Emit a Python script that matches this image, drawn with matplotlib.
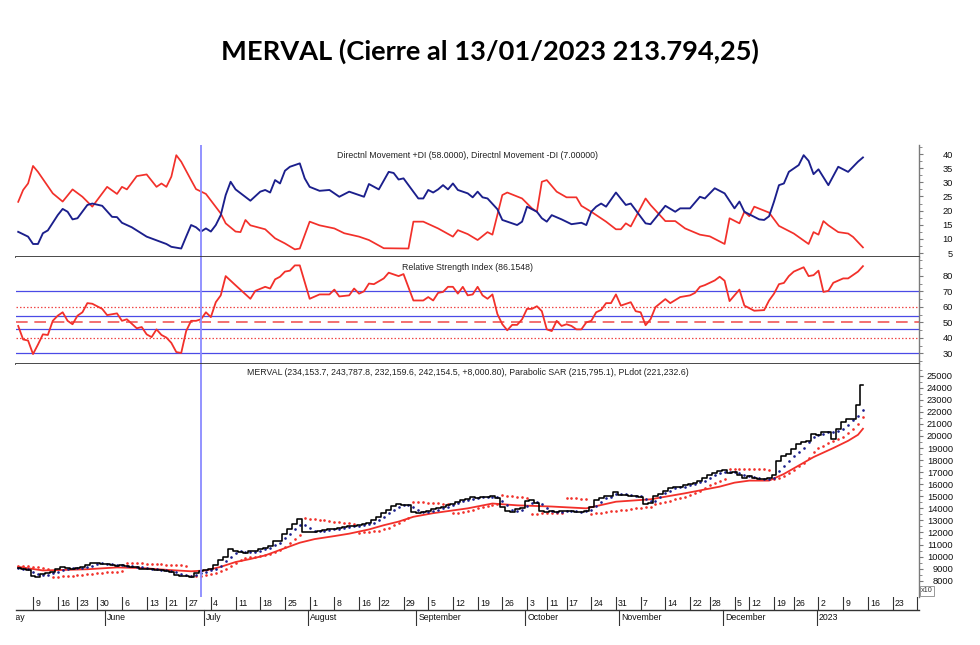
import numpy as np
import pandas as pd
import matplotlib
matplotlib.use("Agg")
import matplotlib.pyplot as plt
from matplotlib.ticker import MultipleLocator

# ---------------- calendar ----------------
holidays = ['2022-05-18', '2022-05-25', '2022-06-17', '2022-06-20', '2022-08-15',
            '2022-10-07', '2022-10-10', '2022-11-21', '2022-12-08', '2022-12-09',
            '2022-12-20']
first_session = '2022-05-04'
last_session = '2023-01-13'
future_end = '2023-01-31'
month_names = ['May', 'June', 'July', 'August', 'September', 'October',
               'November', 'December', '2023']

# ---------------- price panel data (session 0 = 2022-05-04) ----------------
close = [9050, 8950, 8850, 8350, 8300, 8550, 8600, 8700, 8950, 9150,
         9050, 9000, 9050, 9150, 9300, 9450, 9500, 9400, 9350, 9300,
         9250, 9300, 9200, 9150, 9100, 9000, 8950, 9000, 8900, 8850,
         8800, 8750, 8500, 8350, 8400, 8300, 8650, 8800, 8900, 8950,
         9300, 9700, 9950, 10600, 10450, 10400, 10300, 10450, 10500, 10650,
         10700, 10900, 11300, 11300, 11900, 12300, 12700, 13100, 12000, 12050,
         12050, 12150, 12200, 12250, 12300, 12350, 12450, 12500, 12550, 12600,
         12700, 12800, 13000, 13300, 13600, 13900, 14200, 14350, 14300, 14250,
         13700, 13650, 13700, 13800, 13950, 14000, 14150, 14250, 14400, 14550,
         14700, 14800, 14900, 14850, 14950, 14900, 15000, 14850, 14150, 13750,
         13700, 13950, 14000, 14650, 14700, 14450, 13800, 13700, 13750, 13700,
         13750, 13800, 13750, 13700, 13700, 13800, 14100, 14700, 14850, 15000,
         15000, 15380, 15100, 15100, 15050, 15000, 14950, 14400, 14450, 15050,
         15200, 15450, 15700, 15750, 15800, 15900, 16000, 16100, 16300, 16500,
         16800, 16900, 17100, 17150, 16950, 17000, 16800, 16550, 16700, 16500,
         16450, 16400, 16500, 16800, 17900, 18300, 18500, 18900, 19300, 19500,
         19600, 20200, 20100, 20300, 20350, 19750, 20600, 21200, 21400, 21450,
         22600, 24215]

pldot = [9050, 9000, 8950, 8750, 8550, 8450, 8500, 8600, 8750, 8900,
         9000, 9050, 9050, 9050, 9150, 9250, 9400, 9450, 9400, 9350,
         9300, 9300, 9250, 9200, 9150, 9100, 9050, 9000, 8950, 8900,
         8850, 8800, 8700, 8550, 8450, 8400, 8450, 8600, 8750, 8850,
         9000, 9250, 9600, 10000, 10300, 10450, 10400, 10400, 10400, 10500,
         10600, 10750, 11000, 11150, 11500, 11850, 12250, 12650, 12650, 12400,
         12150, 12100, 12150, 12200, 12250, 12300, 12350, 12450, 12500, 12550,
         12600, 12700, 12800, 13000, 13300, 13600, 13900, 14150, 14300, 14300,
         14100, 13900, 13700, 13700, 13800, 13900, 14050, 14150, 14300, 14450,
         14600, 14700, 14800, 14850, 14900, 14900, 14950, 14900, 14650, 14250,
         13850, 13800, 13900, 14200, 14450, 14550, 14350, 14000, 13750, 13700,
         13700, 13750, 13750, 13750, 13700, 13750, 13850, 14200, 14550, 14850,
         14950, 15150, 15150, 15150, 15100, 15050, 15000, 14800, 14600, 14650,
         14900, 15250, 15450, 15650, 15750, 15800, 15900, 16000, 16150, 16300,
         16550, 16750, 16950, 17050, 17050, 17000, 16900, 16800, 16700, 16600,
         16550, 16450, 16450, 16550, 17100, 17500, 17900, 18300, 18700, 19000,
         19500, 19900, 20100, 20200, 20300, 20350, 20450, 20600, 20950, 21300,
         21650, 22120]

psar = [9250, 9250, 9200, 9150, 9100, 9050, 9000, 8300, 8320, 8350,
        8380, 8420, 8460, 8500, 8540, 8580, 8620, 8660, 8700, 8730,
        8760, 8790, 9500, 9480, 9460, 9440, 9420, 9400, 9380, 9360,
        9340, 9320, 9300, 9280, 9260, 8350, 8380, 8420, 8460, 8520,
        8620, 8780, 9000, 9250, 9500, 9700, 9850, 9950, 10000, 10050,
        10150, 10250, 10400, 10550, 10800, 11100, 11450, 11800, 13200, 13150,
        13100, 13050, 13000, 12950, 12900, 12850, 12800, 12750, 12700, 11950,
        12000, 12050, 12100, 12150, 12250, 12400, 12600, 12800, 13000, 13200,
        14550, 14530, 14500, 14480, 14450, 14430, 14400, 14400, 13600, 13650,
        13700, 13800, 13900, 14000, 14100, 14200, 14300, 14350, 15100, 15050,
        15000, 14950, 14900, 14850, 13550, 13550, 13580, 13600, 13620, 13600,
        13600, 14850, 14830, 14820, 14800, 14780, 13550, 13600, 13650, 13700,
        13750, 13800, 13850, 13900, 13950, 14000, 14050, 14100, 14150, 14400,
        14450, 14550, 14650, 14750, 14850, 14950, 15100, 15250, 15450, 15650,
        15900, 16100, 16300, 16400, 17300, 17290, 17280, 17270, 17260, 17250,
        17240, 17230, 17220, 16400, 16500, 16650, 16900, 17200, 17500, 17800,
        18200, 18700, 19000, 19200, 19400, 19600, 19750, 19950, 20250, 20600,
        21000, 21580]

ma_session = [0, 5, 10, 14, 20, 25, 30, 35, 38, 41, 44, 47, 50, 54, 57, 60, 64, 67,
              71, 74, 77, 80, 84, 91, 96, 101, 108, 115, 121, 128, 135, 142, 145,
              148, 152, 155, 158, 161, 165, 168, 170, 171]
ma_value = [9150, 8850, 8900, 8950, 9100, 9050, 8900, 8780, 8850, 9150, 9550, 9800,
            10100, 10700, 11150, 11450, 11700, 11900, 12250, 12600, 12900, 13300,
            13600, 14000, 14400, 14250, 14150, 14000, 14550, 14750, 15250, 15800,
            16130, 16300, 16300, 16850, 17550, 18250, 19000, 19600, 20100, 20600]

# ---------------- DMI panel data ----------------
dip_session = [0, 2, 3, 4, 5, 6, 8, 9, 10, 11, 12, 14, 15, 17, 19, 20, 21, 23, 26,
               30, 31, 33, 34, 35, 36, 37, 38, 39, 40, 41, 42, 43, 44, 47, 49, 50,
               51, 52, 53, 54, 55, 57, 58, 59, 61, 63, 65, 67, 70, 71, 73, 75, 76,
               77, 78, 81, 82, 83, 84, 85, 86, 87, 88, 89, 91, 92, 93, 94, 95, 97,
               98, 101, 102, 103, 105, 106, 107, 108, 110, 112, 114, 115, 116, 117,
               118, 119, 121, 123, 124, 127, 128, 131, 133, 134, 136, 138, 139, 141,
               143, 145, 146, 147, 150, 151, 152, 153, 154, 155, 156, 158, 159, 160,
               161, 162, 164, 166, 168, 170, 171]
dip_value = [12.5, 10.8, 8.2, 8.2, 12.0, 13.0, 18.4, 20.6, 19.6, 16.9, 17.3, 22.0,
             22.5, 21.7, 17.8, 17.7, 15.7, 14.1, 10.8, 8.2, 7.2, 6.6, 10.8, 14.9,
             14.1, 12.6, 13.7, 12.6, 14.9, 18.4, 25.5, 30.2, 27.5, 23.5, 26.7, 27.3,
             26.4, 30.8, 29.6, 34.1, 35.5, 36.7, 31.4, 28.4, 27.0, 27.3, 24.9, 26.7,
             24.9, 29.4, 27.5, 33.7, 33.3, 31.0, 31.4, 24.3, 24.3, 27.3, 26.4, 27.5,
             29.0, 27.5, 29.6, 27.3, 26.1, 24.7, 26.7, 24.7, 24.3, 20.5, 16.7, 14.9,
             16.1, 21.4, 19.6, 17.3, 16.1, 18.4, 16.9, 15.2, 15.7, 14.9, 19.6, 21.4,
             22.5, 21.4, 26.4, 22.0, 22.5, 15.5, 15.2, 21.7, 19.6, 20.8, 20.8, 24.9,
             24.3, 27.9, 26.1, 20.8, 23.2, 19.6, 16.9, 16.7, 18.0, 23.2, 29.0, 29.6,
             33.7, 36.1, 39.6, 37.6, 32.9, 34.6, 29.0, 35.5, 33.7, 37.3, 38.8]

dim_session = [0, 1, 2, 3, 4, 7, 9, 11, 13, 15, 18, 20, 21, 22, 24, 26, 28, 29, 30,
               31, 32, 33, 35, 36, 38, 41, 42, 44, 45, 46, 47, 50, 52, 54, 56, 57,
               59, 61, 64, 66, 69, 71, 74, 79, 80, 82, 85, 88, 89, 91, 93, 95, 96,
               98, 99, 102, 104, 105, 106, 107, 109, 111, 113, 114, 116, 119, 121,
               122, 123, 124, 127, 128, 131, 133, 135, 138, 140, 143, 144, 146, 147,
               148, 149, 152, 154, 157, 160, 161, 162, 163, 164, 166, 168, 169, 171]
dim_value = [23.1, 27.3, 29.6, 35.8, 33.7, 26.1, 23.2, 27.5, 24.9, 21.4, 28.4, 25.9,
             28.4, 27.5, 32.2, 32.8, 28.4, 29.6, 28.4, 32.0, 39.6, 37.3, 30.8, 27.6,
             25.9, 19.0, 15.5, 12.6, 12.4, 16.7, 14.8, 13.4, 10.2, 8.4, 6.3, 6.6,
             16.1, 14.8, 13.7, 12.0, 10.8, 9.6, 6.7, 6.6, 16.1, 16.1, 13.7, 10.8,
             13.1, 11.7, 9.6, 12.4, 11.5, 25.5, 26.4, 24.3, 20.8, 19.6, 30.2, 30.8,
             26.7, 24.7, 24.7, 21.7, 19.6, 16.1, 13.4, 13.4, 15.5, 14.4, 24.3, 22.0,
             16.3, 16.3, 13.7, 11.5, 10.9, 8.2, 17.3, 15.5, 19.6, 18.0, 21.4, 19.3,
             14.6, 11.9, 8.2, 12.4, 11.5, 16.3, 14.8, 12.4, 11.9, 10.7, 7.0]

# ---------------- RSI panel data ----------------
rsi_session = [0, 1, 2, 3, 4, 5, 6, 7, 8, 9, 10, 11, 12, 13, 14, 15, 17, 18, 20, 21,
               22, 24, 25, 26, 27, 28, 29, 30, 31, 32, 33, 34, 35, 36, 37, 38, 39,
               40, 41, 42, 44, 47, 48, 50, 51, 52, 53, 54, 55, 56, 57, 59, 61, 63,
               64, 65, 67, 68, 69, 70, 71, 72, 74, 75, 77, 78, 80, 82, 83, 84, 85,
               86, 87, 88, 89, 90, 91, 92, 93, 94, 95, 96, 97, 98, 99, 100, 101,
               102, 103, 104, 105, 106, 107, 108, 109, 110, 111, 112, 113, 114, 115,
               116, 117, 118, 119, 120, 121, 122, 124, 125, 126, 127, 128, 129, 131,
               132, 134, 136, 137, 138, 139, 141, 142, 143, 144, 146, 147, 149, 151,
               152, 153, 154, 155, 156, 157, 159, 160, 161, 162, 163, 164, 165, 167,
               168, 170, 171]
rsi_value = [47.7, 39.0, 38.3, 29.6, 35.7, 42.3, 41.9, 51.0, 54.3, 56.5, 51.0, 48.8,
             54.3, 56.5, 62.4, 62.0, 58.7, 54.7, 55.8, 51.0, 52.0, 46.2, 47.0, 42.3,
             40.5, 45.5, 41.9, 40.2, 36.8, 30.9, 30.3, 44.4, 51.0, 51.0, 52.0, 56.5,
             53.4, 63.0, 67.4, 79.8, 73.9, 65.2, 70.3, 72.9, 71.8, 77.7, 79.4, 82.7,
             83.3, 86.7, 86.7, 65.2, 68.0, 68.0, 71.1, 66.7, 67.4, 71.8, 68.5, 70.0,
             75.0, 74.6, 78.3, 82.0, 79.8, 81.1, 64.1, 64.1, 66.3, 64.1, 69.0, 69.6,
             72.9, 72.9, 68.5, 72.9, 67.4, 68.0, 72.9, 67.4, 65.2, 68.0, 55.4, 48.8,
             44.9, 48.4, 48.4, 52.0, 58.7, 58.7, 60.4, 57.2, 45.5, 44.4, 51.0, 47.7,
             48.8, 47.7, 45.5, 45.5, 50.0, 51.0, 56.5, 58.0, 62.4, 62.4, 68.0, 60.8,
             63.0, 57.2, 56.5, 48.2, 52.0, 59.8, 65.0, 62.4, 66.3, 67.4, 69.0, 72.9,
             74.0, 77.0, 79.4, 76.8, 63.7, 71.1, 60.8, 57.5, 57.9, 64.1, 68.5, 74.6,
             75.4, 79.8, 82.7, 85.5, 79.8, 80.4, 83.3, 69.6, 70.3, 75.5, 78.3, 78.3,
             82.7, 86.2]
rsi_blue_levels = [30, 46, 54, 70]
rsi_red_dotted = [40, 60]
rsi_mid = 50

crosshair_date = '2022-06-30'

di_label = 'Directnl Movement +DI (58.0000), Directnl Movement -DI (7.00000)'
rsi_label = 'Relative Strength Index (86.1548)'
price_label = ('MERVAL (234,153.7, 243,787.8, 232,159.6, 242,154.5, +8,000.80), '
               'Parabolic SAR (215,795.1), PLdot (221,232.6)')
title = 'MERVAL (Cierre al 13/01/2023 213.794,25)'

# ---------------- session positions ----------------
hol = set(pd.to_datetime(holidays))
trading = [d for d in pd.bdate_range('2022-05-02', last_session) if d not in hol]
future = list(pd.bdate_range(pd.Timestamp(last_session) + pd.Timedelta(days=1), future_end))
calendar = trading + future
offset = calendar.index(pd.Timestamp(first_session))
cal_pos = np.arange(len(calendar)) - offset
x_close = np.arange(len(close))

# ---------------- figure ----------------
fig = plt.figure(figsize=(9.8, 6.45), dpi=100)
W, H = 980.0, 645.0
XL, XR = 16, 919


def box(top, bottom):
    return [XL / W, 1 - bottom / H, (XR - XL) / W, (bottom - top) / H]


ax1 = fig.add_axes(box(145, 257))
ax2 = fig.add_axes(box(257, 364))
ax3 = fig.add_axes(box(364, 597))
axx = fig.add_axes(box(597, 626))

ppd = 4.94
x0px = 18.2
xlim = ((XL - x0px) / ppd, (XR - x0px) / ppd)

FONT = 'Liberation Sans'
navy = '#1b1f8c'
red = '#f2302a'
grid_blue = '#4a4ae6'
spine_col = '#7a7a7a'

for ax in (ax1, ax2, ax3, axx):
    ax.set_xlim(*xlim)
    ax.set_facecolor('white')
    for s in ('left', 'top', 'bottom', 'right'):
        ax.spines[s].set_visible(False)
    ax.set_xticks([])
axx.set_yticks([])
axx.patch.set_alpha(0)

for ax in (ax1, ax2, ax3):
    ax.spines['right'].set_visible(True)
    ax.spines['right'].set_color(spine_col)
    ax.spines['right'].set_linewidth(1.0)
    ax.yaxis.tick_right()
    ax.tick_params(axis='y', which='major', length=3, width=0.8, color=spine_col,
                   pad=21.5, labelsize=6.7, labelcolor='#111111')
    ax.tick_params(axis='y', which='minor', length=1.8, width=0.6, color=spine_col)
for ax in (ax1, ax2):
    ax.spines['bottom'].set_visible(True)
    ax.spines['bottom'].set_color('#3a3a3a')
    ax.spines['bottom'].set_linewidth(1.3)

# DMI panel
ax1.set_ylim(3.6, 43.2)
ax1.set_yticks(np.arange(5, 41, 5))
ax1.yaxis.set_minor_locator(MultipleLocator(2.5))
ax1.plot(dim_session, dim_value, color=red, lw=1.25)
ax1.plot(dip_session, dip_value, color=navy, lw=1.35)
ax1.text(0.5, 0.905, di_label, transform=ax1.transAxes, ha='center', va='center',
         fontsize=6.3, family=FONT, color='#222222')

# RSI panel
ax2.set_ylim(23.2, 92.1)
ax2.set_yticks(np.arange(30, 81, 10))
ax2.yaxis.set_minor_locator(MultipleLocator(5))
for lv in rsi_blue_levels:
    ax2.axhline(lv, color=grid_blue, lw=0.9)
for lv in rsi_red_dotted:
    ax2.axhline(lv, color='#f04848', lw=0.9, ls=(0, (1.2, 1.6)))
ax2.axhline(rsi_mid, color='#f05858', lw=1.2, ls=(0, (7, 4)))
ax2.plot(rsi_session, rsi_value, color=red, lw=1.3)
ax2.text(0.5, 0.905, rsi_label, transform=ax2.transAxes, ha='center', va='center',
         fontsize=6.3, family=FONT, color='#222222')

# Price panel
ax3.set_ylim(6648, 25970)
ax3.set_yticks(np.arange(8000, 25001, 1000))
ax3.yaxis.set_minor_locator(MultipleLocator(500))
ax3.plot(ma_session, ma_value, color=red, lw=1.3)
ax3.plot(x_close, psar, ls='none', marker='o', ms=1.9, mew=0, color=red)
ax3.plot(x_close, pldot, ls='none', marker='o', ms=1.9, mew=0, color=navy)
ax3.step(x_close, close, where='mid', color='black', lw=1.15)
ax3.text(0.5, 0.962, price_label, transform=ax3.transAxes, ha='center', va='center',
         fontsize=6.3, family=FONT, color='#222222')

for ax in (ax1, ax2, ax3):
    for lbl in ax.get_yticklabels():
        lbl.set_horizontalalignment('right')
        lbl.set_family(FONT)

# crosshair
cx = cal_pos[calendar.index(pd.Timestamp(crosshair_date))]
for ax in (ax1, ax2, ax3):
    ax.axvline(cx, color='#8a8aff', lw=1.3)

# x10 marker
fig.text(921 / W, 1 - 591 / H, 'x10', fontsize=5.2, family=FONT, ha='left', va='center',
         color='#333333',
         bbox=dict(boxstyle='square,pad=0.15', fc='white', ec='#888888', lw=0.6))

# date strip
axx.set_ylim(0, 1)
line_y = (626 - 610) / 29.0
tick_bottom = (626 - 609) / 29.0
axx.plot(xlim, [line_y, line_y], color='#333333', lw=1.0, clip_on=False)
cal_series = pd.Series(calendar)
weeks = cal_series.groupby(cal_series.dt.to_period('W')).first()
for d in weeks:
    p = cal_pos[calendar.index(d)]
    axx.plot([p, p], [1.0, tick_bottom], color='#333333', lw=0.8)
    axx.annotate(str(d.day), (p, (626 - 604) / 29.0), xytext=(1.6, 0),
                 textcoords='offset points', ha='left', va='center', fontsize=6.3,
                 family=FONT, color='#111111', annotation_clip=False, clip_on=True)
months = cal_series.groupby(cal_series.dt.to_period('M')).first()
for name, d in zip(month_names, months):
    p = cal_pos[calendar.index(d)] - 0.4
    axx.plot([p, p], [line_y, 0.0], color='#333333', lw=0.8)
    axx.annotate(name, (p, (626 - 617) / 29.0), xytext=(1.6, 0),
                 textcoords='offset points', ha='left', va='center', fontsize=6.3,
                 family=FONT, color='#111111', annotation_clip=False, clip_on=True)

fig.text(0.5, 1 - 51 / H, title, ha='center', va='center', fontsize=19.6,
         fontweight='bold', family='Lato', color='black')

fig.savefig('out.png', dpi=100)
